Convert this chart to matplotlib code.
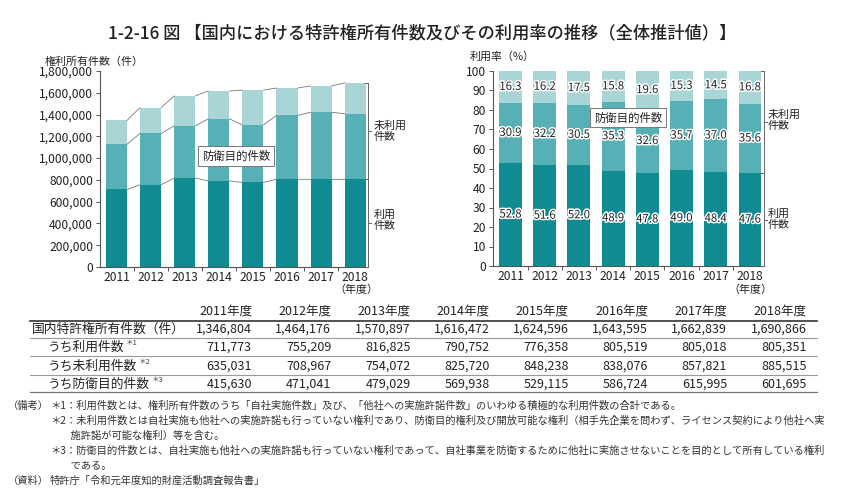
import matplotlib
matplotlib.use('Agg')
import matplotlib.pyplot as plt
import matplotlib.patheffects as pe
import numpy as np

plt.rcParams['font.family'] = ['Noto Sans CJK JP', 'DejaVu Sans']

# ---------------- data ----------------
years = ['2011', '2012', '2013', '2014', '2015', '2016', '2017', '2018']
total = [1346804, 1464176, 1570897, 1616472, 1624596, 1643595, 1662839, 1690866]
used = [711773, 755209, 816825, 790752, 776358, 805519, 805018, 805351]
unused = [635031, 708967, 754072, 825720, 848238, 838076, 857821, 885515]
defense = [415630, 471041, 479029, 569938, 529115, 586724, 615995, 601695]

pct_used = [52.8, 51.6, 52.0, 48.9, 47.8, 49.0, 48.4, 47.6]
pct_def = [30.9, 32.2, 30.5, 35.3, 32.6, 35.7, 37.0, 35.6]
pct_other = [16.3, 16.2, 17.5, 15.8, 19.6, 15.3, 14.5, 16.8]

left_yticks = [0, 200000, 400000, 600000, 800000, 1000000, 1200000, 1400000, 1600000, 1800000]
right_yticks = [0, 10, 20, 30, 40, 50, 60, 70, 80, 90, 100]

row_labels = ['国内特許権所有件数（件）', 'うち利用件数', 'うち未利用件数', 'うち防衛目的件数']
row_marks = ['', '＊1', '＊2', '＊3']
col_labels = [y + '年度' for y in years]

title = '1-2-16 図 【国内における特許権所有件数及びその利用率の推移（全体推計値）】'
notes = [
    ('（備考）', '＊1：利用件数とは、権利所有件数のうち「自社実施件数」及び、「他社への実施許諾件数」のいわゆる積極的な利用件数の合計である。'),
    ('', '＊2：未利用件数とは自社実施も他社への実施許諾も行っていない権利であり、防衛目的権利及び開放可能な権利（相手先企業を問わず、ライセンス契約により他社へ実'),
    ('', '　　施許諾が可能な権利）等を含む。'),
    ('', '＊3：防衛目的件数とは、自社実施も他社への実施許諾も行っていない権利であって、自社事業を防衛するために他社に実施させないことを目的として所有している権利'),
    ('', '　　である。'),
    ('（資料）', '特許庁「令和元年度知的財産活動調査報告書」'),
]

# ---------------- styling ----------------
W, H = 850, 496
c_dark = '#118b92'
c_mid = '#56b0b5'
c_light = '#a9d5d7'
c_text = '#222222'
c_axis = '#555555'

fig = plt.figure(figsize=(W / 100, H / 100), dpi=100)

# overlay axes in pixel coordinates for free text / table
tax = fig.add_axes([0, 0, 1, 1], zorder=5)
tax.set_xlim(0, W)
tax.set_ylim(H, 0)
tax.axis('off')


def px_axes(x0, x1, ytop, ybot):
    return fig.add_axes([x0 / W, 1 - ybot / H, (x1 - x0) / W, (ybot - ytop) / H])


def style_axes(ax):
    for s in ['top', 'right']:
        ax.spines[s].set_visible(False)
    for s in ['left', 'bottom']:
        ax.spines[s].set_color(c_axis)
        ax.spines[s].set_linewidth(0.8)
    ax.tick_params(axis='y', length=3, width=0.7, color=c_axis, labelsize=8.7,
                   labelcolor=c_text, pad=2)
    ax.tick_params(axis='x', which='major', length=0, labelsize=8.7,
                   labelcolor=c_text, pad=3)
    ax.tick_params(axis='x', which='minor', length=3, width=0.7, color=c_axis)


def bracket(ax, x, y0, y1, dx):
    kw = dict(color='#666666', lw=0.7, clip_on=False, zorder=4)
    ax.plot([x, x], [y0, y1], **kw)
    ax.plot([x - dx, x], [y0, y0], **kw)
    ax.plot([x - dx, x], [y1, y1], **kw)
    ym = (y0 + y1) / 2
    ax.plot([x, x + dx], [ym, ym], **kw)


x = np.arange(len(years))

# ---------------- left chart ----------------
axL = px_axes(100, 368, 71, 267)
bwL = 0.62
other = [u - d for u, d in zip(unused, defense)]
b0 = np.array(used)
b1 = b0 + np.array(defense)
b2 = b1 + np.array(other)
axL.bar(x, used, width=bwL, color=c_dark, zorder=2)
axL.bar(x, defense, width=bwL, bottom=b0, color=c_mid, zorder=2)
axL.bar(x, other, width=bwL, bottom=b1, color=c_light, zorder=2)
for lev in (b0, b1, b2):
    for i in range(len(x) - 1):
        axL.plot([x[i] + bwL / 2, x[i + 1] - bwL / 2], [lev[i], lev[i + 1]],
                 color='#777777', lw=0.6, zorder=3)
axL.set_xlim(-0.484, 7.375)
axL.set_ylim(0, 1800000)
axL.set_yticks(left_yticks)
axL.set_yticklabels([f'{v:,}' for v in left_yticks])
axL.set_xticks(x)
axL.set_xticklabels(years)
axL.set_xticks(x[:-1] + 0.5, minor=True)
style_axes(axL)
bracket(axL, 7.375, total[-1], used[-1], 0.1)
bracket(axL, 7.375, used[-1], 0, 0.1)
axL.text(3.5, 1020000, '防衛目的件数', ha='center', va='center', fontsize=8.2,
         color=c_text, zorder=6,
         bbox=dict(boxstyle='square,pad=0.35', fc='white', ec='#777777', lw=0.7))

# ---------------- right chart ----------------
axR = px_axes(493, 764, 71, 266)
bwR = 0.67
p0 = np.array(pct_used)
p1 = p0 + np.array(pct_def)
axR.bar(x, pct_used, width=bwR, color=c_dark, zorder=2)
axR.bar(x, pct_def, width=bwR, bottom=p0, color=c_mid, zorder=2)
axR.bar(x, pct_other, width=bwR, bottom=p1, color=c_light, zorder=2)
stroke = [pe.withStroke(linewidth=2.2, foreground='white')]
for i in range(len(x)):
    for val, base in ((pct_used[i], 0), (pct_def[i], p0[i]), (pct_other[i], p1[i])):
        axR.text(x[i], base + val / 2, f'{val:.1f}', ha='center', va='center',
                 fontsize=8.2, color=c_text, path_effects=stroke, zorder=5)
axR.set_xlim(-0.512, 7.41)
axR.set_ylim(0, 100)
axR.set_yticks(right_yticks)
axR.set_xticks(x)
axR.set_xticklabels(years)
axR.set_xticks(x[:-1] + 0.5, minor=True)
style_axes(axR)
bracket(axR, 7.41, 100, pct_used[-1], 0.1)
bracket(axR, 7.41, pct_used[-1], 0, 0.1)
axR.text(3.44, 76, '防衛目的件数', ha='center', va='center', fontsize=8.2,
         color=c_text, zorder=6,
         bbox=dict(boxstyle='square,pad=0.35', fc='white', ec='#777777', lw=0.7))

# ---------------- free texts ----------------
tax.text(422, 33, title, ha='center', va='center', fontsize=12.4,
         fontweight='medium', color=c_text)
tax.text(45, 62, '権利所有件数（件）', ha='left', va='center', fontsize=7.9, color=c_text)
tax.text(470, 57, '利用率（%）', ha='left', va='center', fontsize=7.9, color=c_text)
tax.text(356, 290, '（年度）', ha='center', va='center', fontsize=7.9, color=c_text)
tax.text(750, 290, '（年度）', ha='center', va='center', fontsize=7.9, color=c_text)
for xx, yy, s in ((374, 131, '未利用\n件数'), (374, 220, '利用\n件数'),
                  (768, 120, '未利用\n件数'), (768, 219, '利用\n件数')):
    tax.text(xx, yy, s, ha='left', va='center', fontsize=7.9, color=c_text,
             linespacing=1.15)

# ---------------- table ----------------
col_right = [252 + 79.2 * i for i in range(8)]
tax.plot([30, 817], [321, 321], color='#333333', lw=1.2)
for yy in (338, 356, 375):
    tax.plot([30, 817], [yy, yy], color='#999999', lw=0.8)
tax.plot([30, 817], [392, 392], color='#777777', lw=0.9)
for cr, lab in zip(col_right, col_labels):
    tax.text(cr, 311, lab, ha='right', va='center', fontsize=9, color=c_text)
rows = [total, used, unused, defense]
row_y = [329, 347, 366, 384]
for r, (lab, mark, vals, yy) in enumerate(zip(row_labels, row_marks, rows, row_y)):
    lx = 32 if r == 0 else 48
    t = tax.text(lx, yy, lab, ha='left', va='center', fontsize=9.2, color=c_text)
    if mark:
        tax.annotate(mark, xy=(1, 1), xycoords=t, xytext=(1, 1),
                     textcoords='offset points', ha='left', va='top',
                     fontsize=5.5, color='#444444')
    for cr, v in zip(col_right, vals):
        tax.text(cr, yy, f'{v:,}', ha='right', va='center', fontsize=9, color=c_text)

# ---------------- notes ----------------
note_y = [406, 421, 436, 451, 466, 481]
for (head, body), yy in zip(notes, note_y):
    if head:
        tax.text(8, yy, head, ha='left', va='center', fontsize=7.4, color='#333333')
    tax.text(50, yy, body, ha='left', va='center', fontsize=7.4, color='#333333')

fig.savefig('out.png', dpi=100)
